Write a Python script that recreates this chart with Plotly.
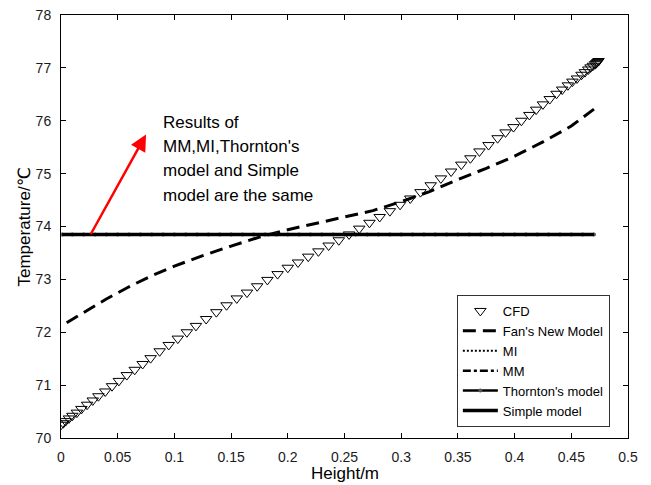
import plotly.graph_objects as go

# ---- data -------------------------------------------------------------
# CFD temperature profile along the height
cfd_h = [0.000, 0.002, 0.004, 0.007, 0.010, 0.014, 0.018, 0.023, 0.028, 0.033,
         0.039, 0.045, 0.051, 0.058, 0.065, 0.072, 0.079, 0.087, 0.095, 0.103,
         0.111, 0.119, 0.128, 0.137, 0.146, 0.155, 0.164, 0.173, 0.182, 0.191,
         0.200, 0.209, 0.218, 0.227, 0.236, 0.245, 0.254, 0.263, 0.272, 0.281,
         0.290, 0.299, 0.308, 0.317, 0.326, 0.335, 0.344, 0.353, 0.361, 0.369,
         0.377, 0.385, 0.392, 0.399, 0.406, 0.413, 0.419, 0.425, 0.431, 0.437,
         0.442, 0.447, 0.451, 0.455, 0.459, 0.462, 0.465, 0.467, 0.469, 0.471,
         0.472, 0.473, 0.474]
cfd_T = [70.25, 70.28, 70.32, 70.37, 70.42, 70.48, 70.55, 70.63, 70.71, 70.79,
         70.88, 70.98, 71.08, 71.19, 71.29, 71.40, 71.51, 71.64, 71.76, 71.88,
         72.00, 72.12, 72.25, 72.38, 72.51, 72.64, 72.75, 72.87, 72.99, 73.10,
         73.22, 73.32, 73.43, 73.53, 73.64, 73.74, 73.85, 73.96, 74.07, 74.18,
         74.29, 74.41, 74.53, 74.65, 74.78, 74.91, 75.04, 75.17, 75.29, 75.42,
         75.54, 75.67, 75.78, 75.88, 76.00, 76.11, 76.21, 76.31, 76.41, 76.51,
         76.59, 76.67, 76.74, 76.80, 76.87, 76.92, 76.97, 77.01, 77.04, 77.07,
         77.09, 77.11, 77.13]

# Fan's new model
fan_h = [0.005, 0.02, 0.04, 0.06, 0.08, 0.10, 0.125, 0.15, 0.175, 0.20, 0.225,
         0.25, 0.275, 0.30, 0.325, 0.35, 0.375, 0.40, 0.425, 0.45, 0.47]
fan_T = [72.18, 72.38, 72.63, 72.86, 73.07, 73.25, 73.45, 73.63, 73.80, 73.94,
         74.06, 74.17, 74.30, 74.47, 74.66, 74.89, 75.10, 75.33, 75.60, 75.90,
         76.22]

# MM, MI, Thornton's model and the simple model all give one uniform temperature
model_h = [0.001, 0.01, 0.02, 0.03, 0.04, 0.05, 0.06, 0.07, 0.08, 0.09, 0.10,
           0.11, 0.12, 0.13, 0.14, 0.15, 0.16, 0.17, 0.18, 0.19, 0.20, 0.21,
           0.22, 0.23, 0.24, 0.25, 0.26, 0.27, 0.28, 0.29, 0.30, 0.31, 0.32,
           0.33, 0.34, 0.35, 0.36, 0.37, 0.38, 0.39, 0.40, 0.41, 0.42, 0.43,
           0.44, 0.45, 0.46, 0.47]
uniform_T = 73.85
mi_T = [uniform_T] * len(model_h)
mm_T = [uniform_T] * len(model_h)
thornton_T = [uniform_T] * len(model_h)
simple_T = [uniform_T] * len(model_h)

x_ticks = [0, 0.05, 0.1, 0.15, 0.2, 0.25, 0.3, 0.35, 0.4, 0.45, 0.5]
x_tick_text = ["0", "0.05", "0.1", "0.15", "0.2", "0.25", "0.3", "0.35", "0.4", "0.45", "0.5"]
y_ticks = [70, 71, 72, 73, 74, 75, 76, 77, 78]

note_lines = ["Results of", "MM,MI,Thornton's", "model and Simple", "model are the same"]

# ---- figure -----------------------------------------------------------
FONT = "Arial, 'Liberation Sans', 'DejaVu Sans', sans-serif"

fig = go.Figure()
fig.add_trace(go.Scatter(
    x=cfd_h, y=cfd_T, mode="markers", name="CFD",
    marker=dict(symbol="triangle-down-open", size=10, color="black",
                line=dict(width=1, color="black"))))
fig.add_trace(go.Scatter(
    x=fan_h, y=fan_T, mode="lines", name="Fan's New Model",
    line=dict(color="black", width=3, dash="13px,7px")))
fig.add_trace(go.Scatter(
    x=model_h, y=mi_T, mode="lines", name="MI",
    line=dict(color="black", width=2, dash="2px,2px")))
fig.add_trace(go.Scatter(
    x=model_h, y=mm_T, mode="lines", name="MM",
    line=dict(color="black", width=2.5, dash="8px,3px,3px,3px")))
fig.add_trace(go.Scatter(
    x=model_h, y=thornton_T, mode="lines+markers", name="Thornton's model",
    line=dict(color="black", width=2.5),
    marker=dict(symbol="circle", size=4, color="#555555")))
fig.add_trace(go.Scatter(
    x=model_h, y=simple_T, mode="lines", name="Simple model",
    line=dict(color="black", width=3.5)))

# red arrow pointing from the uniform-temperature line to the note
fig.add_annotation(
    x=0.075, y=75.74, ax=0.0256, ay=73.83, xref="x", yref="y",
    axref="x", ayref="y", text="", showarrow=True,
    arrowhead=2, arrowsize=1.3, arrowwidth=2.5, arrowcolor="#ff0000")

note_y = [75.97, 75.52, 75.06, 74.59]
for line_text, yy in zip(note_lines, note_y):
    fig.add_annotation(
        x=0.0883, y=yy, xref="x", yref="y", text=line_text, showarrow=False,
        xanchor="left", yanchor="middle",
        font=dict(family=FONT, size=17, color="black"))

# axis titles
fig.add_annotation(
    x=0.5, y=-0.0851, xref="paper", yref="paper", text="Height/m",
    showarrow=False, xanchor="center", yanchor="middle",
    font=dict(family=FONT, size=17, color="black"))
fig.add_annotation(
    x=-0.0635, y=0.5, xref="paper", yref="paper", text="Temperature/℃",
    showarrow=False, xanchor="center", yanchor="middle", textangle=-90,
    font=dict(family=FONT, size=17, color="black"))

axis_common = dict(
    showline=True, linecolor="black", linewidth=1, mirror="ticks",
    ticks="inside", ticklen=5, tickwidth=1, tickcolor="black",
    showgrid=False, zeroline=False,
    tickfont=dict(family=FONT, size=14, color="#1a1a1a"))

fig.update_xaxes(range=[0, 0.5], tickvals=x_ticks, ticktext=x_tick_text,
                 ticklabelstandoff=6, **axis_common)
fig.update_yaxes(range=[70, 78], tickvals=y_ticks, ticklabelstandoff=6,
                 **axis_common)

fig.update_layout(
    width=651, height=485,
    margin=dict(l=61, r=23, t=15, b=47, autoexpand=False),
    plot_bgcolor="white", paper_bgcolor="white",
    font=dict(family=FONT, color="black"),
    showlegend=True,
    legend=dict(
        x=0.968, y=0.026, xanchor="right", yanchor="bottom",
        bgcolor="white", bordercolor="#333333", borderwidth=1,
        font=dict(family=FONT, size=13, color="black"),
        itemwidth=35, tracegroupgap=0),
)

fig.write_html("out.html")
